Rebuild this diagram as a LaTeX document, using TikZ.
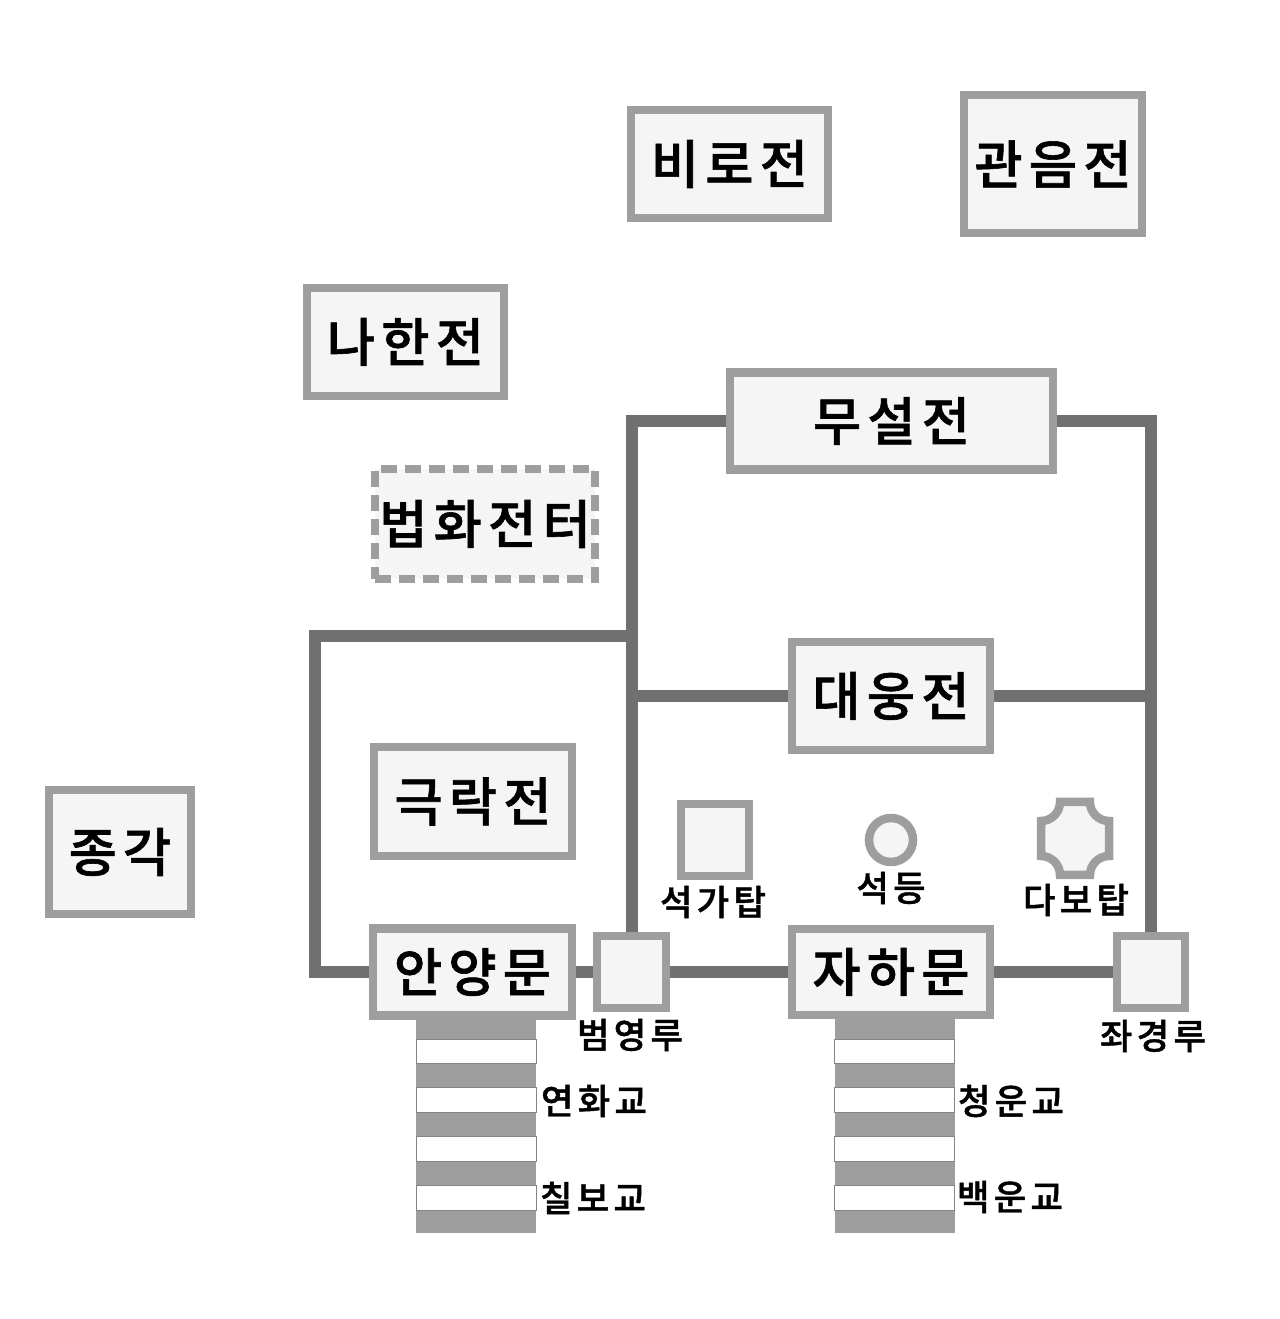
\documentclass[tikz,border=0pt]{standalone}
\usepackage{fontspec}
\newfontfamily\kor[LetterSpace=12,FakeBold=1.2]{Noto Sans CJK KR Medium}
\usepackage{tikz}
\definecolor{edge}{HTML}{9E9E9E}
\definecolor{hall}{HTML}{F5F5F5}
\definecolor{wallc}{HTML}{707070}

\begin{document}
\begin{tikzpicture}
\tikzset{
  box/.style={rectangle,draw=edge,fill=hall,line width=0.085cm,inner sep=0pt,font=\kor\fontsize{14.9pt}{16pt}\selectfont},
  lbl/.style={inner sep=0pt,font=\kor\fontsize{10.05pt}{12pt}\selectfont},
  wall/.style={draw=wallc,line width=0.12cm},
  bridge/.style={rectangle,fill=edge,inner sep=0pt,minimum width=1.2cm,minimum height=2.18cm},
  plank/.style={rectangle,draw=wallc!85,fill=white,line width=0.008cm,inner sep=0pt,minimum width=1.2cm,minimum height=0.245cm}
}
\useasboundingbox (0,0) rectangle (12.8,13.19);

\path (4.76,1.95) node[bridge] (br1) {};
\path (8.945,1.95) node[bridge] (br2) {};

\path (4.76,2.675) node[plank] (p11) {};
\path (4.76,2.19) node[plank] (p12) {};
\path (4.76,1.70) node[plank] (p13) {};
\path (4.76,1.21) node[plank] (p14) {};
\path (8.945,2.675) node[plank] (p21) {};
\path (8.945,2.19) node[plank] (p22) {};
\path (8.945,1.70) node[plank] (p23) {};
\path (8.945,1.21) node[plank] (p24) {};

\path (7.295,11.55) node[box,minimum width=1.97cm,minimum height=1.08cm] (biro) {비로전};
\path (10.53,11.55) node[box,minimum width=1.78cm,minimum height=1.38cm] (gwaneum) {관음전};
\path (4.055,9.77) node[box,minimum width=1.97cm,minimum height=1.08cm] (nahan) {나한전};
\path (8.915,8.98) node[box,minimum width=3.23cm,minimum height=0.97cm] (museol) {무설전};
\path (4.85,7.95) node[box,dash pattern=on 0.16cm off 0.08cm,minimum width=2.2cm,minimum height=1.1cm] (beophwa) {법화전터};
\path (8.91,6.23) node[box,minimum width=1.98cm,minimum height=1.08cm] (daeung) {대웅전};
\path (4.73,5.175) node[box,minimum width=1.98cm,minimum height=1.09cm] (geungnak) {극락전};
\path (1.20,4.67) node[box,minimum width=1.42cm,minimum height=1.24cm] (jonggak) {종각};
\path (4.725,3.47) node[box,minimum width=1.99cm,minimum height=0.87cm] (anyang) {안양문};
\path (8.91,3.47) node[box,minimum width=1.98cm,minimum height=0.86cm] (jaha) {자하문};
\path (6.315,3.47) node[box,minimum width=0.69cm,minimum height=0.72cm] (beomyeong) {};
\path (11.51,3.47) node[box,minimum width=0.68cm,minimum height=0.72cm] (jwagyeong) {};
\path (7.15,4.79) node[box,minimum width=0.68cm,minimum height=0.72cm] (seokga) {};
\path (8.91,4.79) node[box,circle,minimum size=0.44cm] (seokdeung) {};

% dabotap
\draw[draw=edge,fill=hall,line width=0.085cm] (10.60,5.17) -- (10.90,5.17)
  arc[start angle=180,end angle=270,radius=0.19] -- (11.09,4.63)
  arc[start angle=90,end angle=180,radius=0.19] -- (10.60,4.44)
  arc[start angle=0,end angle=90,radius=0.19] -- (10.41,4.98)
  arc[start angle=270,end angle=360,radius=0.19] -- cycle;

\path (6.32,6.83) coordinate (m1);
\path (3.15,6.83) coordinate (w1);
\path (6.32,6.23) coordinate (m2);
\path (11.51,6.23) coordinate (m3);

\draw[wall] (museol) -| (beomyeong);
\draw[wall] (museol) -| (jwagyeong);
\draw[wall] (daeung) -- (m2);
\draw[wall] (daeung) -- (m3);
\draw[wall] (m1) -- (w1) |- (anyang);
\draw[wall] (anyang) -- (beomyeong);
\draw[wall] (beomyeong) -- (jaha);
\draw[wall] (jaha) -- (jwagyeong);

\path (7.13,4.17) node[lbl] (seokgat) {석가탑};
\path (8.91,4.31) node[lbl] (seokdeungt) {석등};
\path (10.76,4.19) node[lbl] (dabot) {다보탑};
\path (6.30,2.84) node[lbl] (beomyeongt) {범영루};
\path (11.53,2.83) node[lbl] (jwagyeongt) {좌경루};
\path (5.94,2.18) node[lbl] (yeonhwa) {연화교};
\path (10.11,2.18) node[lbl] (cheongun) {청운교};
\path (5.93,1.21) node[lbl] (chilbo) {칠보교};
\path (10.10,1.22) node[lbl] (baegun) {백운교};
\end{tikzpicture}
\end{document}
